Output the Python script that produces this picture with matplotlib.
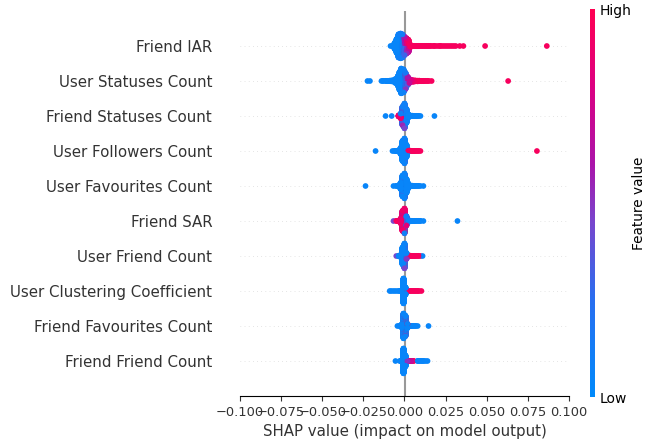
import numpy as np
import matplotlib
matplotlib.use("Agg")
from matplotlib import pyplot as plt
from matplotlib.colors import LinearSegmentedColormap
from matplotlib.cm import ScalarMappable

# (shap value, number of samples, normalised feature value)
friend_iar = [
    (-0.0085, 1, 0.05), (-0.0072, 3, 0.05),
    (-0.0060, 40, 0.05), (-0.0048, 90, 0.05), (-0.0036, 150, 0.08), (-0.0024, 160, 0.1),
    (-0.0012, 120, 0.15), (-0.0012, 30, 0.5),
    (0.0000, 60, 0.3), (0.0000, 60, 0.6),
    (0.0012, 50, 0.55), (0.0012, 50, 0.85),
    (0.0024, 40, 0.7), (0.0024, 40, 0.95),
    (0.0036, 15, 0.95), (0.0048, 4, 0.95), (0.0060, 3, 0.95), (0.0072, 3, 0.95),
    (0.0084, 3, 0.95), (0.0096, 2, 0.95), (0.0108, 2, 0.95), (0.0120, 2, 0.95),
    (0.0132, 2, 0.95), (0.0144, 2, 0.95), (0.0156, 2, 0.95), (0.0168, 1, 0.95),
    (0.0180, 2, 0.95), (0.0192, 1, 0.95), (0.0204, 1, 0.95), (0.0216, 2, 0.95),
    (0.0228, 1, 0.95), (0.0240, 1, 0.95), (0.0252, 1, 0.95), (0.0264, 1, 0.95),
    (0.0276, 1, 0.95), (0.0288, 1, 0.95), (0.0300, 1, 0.95), (0.0312, 1, 0.95),
    (0.0336, 1, 0.95), (0.0358, 1, 0.95), (0.0490, 1, 0.95), (0.0865, 1, 0.95),
]
user_statuses = [
    (-0.0225, 1, 0.05), (-0.0210, 1, 0.05),
    (-0.0140, 1, 0.05), (-0.0130, 2, 0.05), (-0.0115, 2, 0.05), (-0.0105, 3, 0.05),
    (-0.0090, 4, 0.05), (-0.0080, 6, 0.05), (-0.0067, 10, 0.05), (-0.0055, 25, 0.05),
    (-0.0040, 60, 0.05), (-0.0030, 110, 0.05), (-0.0020, 150, 0.07), (-0.0006, 140, 0.1),
    (0.0006, 70, 0.15), (0.0006, 30, 0.5), (0.0020, 25, 0.35), (0.0020, 25, 0.6),
    (0.0030, 25, 0.7), (0.0040, 14, 0.8), (0.0055, 9, 0.9), (0.0067, 6, 0.95),
    (0.0080, 5, 0.95), (0.0090, 4, 0.95), (0.0103, 3, 0.95), (0.0115, 3, 0.95),
    (0.0128, 2, 0.95), (0.0140, 2, 0.95), (0.0150, 1, 0.95), (0.0165, 1, 0.95),
    (0.0630, 1, 0.95),
]
friend_statuses = [
    (-0.0115, 1, 0.05), (-0.0078, 1, 0.05), (-0.0036, 8, 0.9),
    (-0.0024, 15, 0.9), (-0.0024, 15, 0.1), (-0.0012, 80, 0.1), (-0.0012, 40, 0.55),
    (0.0000, 110, 0.08), (0.0000, 50, 0.45), (0.0012, 90, 0.08), (0.0024, 20, 0.05),
    (0.0036, 6, 0.05), (0.0048, 4, 0.05), (0.0060, 3, 0.05), (0.0072, 3, 0.05),
    (0.0085, 2, 0.05), (0.0097, 1, 0.05), (0.0182, 1, 0.05),
]
user_followers = [
    (-0.0176, 1, 0.05), (-0.0073, 1, 0.05), (-0.0060, 2, 0.05), (-0.0048, 3, 0.05),
    (-0.0036, 6, 0.05), (-0.0024, 40, 0.05), (-0.0012, 130, 0.05),
    (0.0000, 140, 0.07), (0.0000, 20, 0.4), (0.0012, 80, 0.05),
    (0.0024, 4, 0.05), (0.0024, 4, 0.95), (0.0036, 4, 0.95), (0.0048, 3, 0.95),
    (0.0060, 3, 0.95), (0.0073, 2, 0.95), (0.0085, 2, 0.95), (0.0097, 1, 0.95),
    (0.0805, 1, 0.95),
]
user_favourites = [
    (-0.0237, 1, 0.05), (-0.0067, 1, 0.05), (-0.0050, 2, 0.05), (-0.0036, 6, 0.05),
    (-0.0024, 40, 0.05), (-0.0012, 120, 0.05), (-0.0012, 15, 0.5),
    (0.0000, 130, 0.07), (0.0000, 15, 0.95), (0.0000, 15, 0.5),
    (0.0012, 90, 0.05), (0.0024, 30, 0.05), (0.0036, 6, 0.05), (0.0048, 4, 0.05),
    (0.0060, 3, 0.05), (0.0073, 2, 0.05), (0.0085, 2, 0.05), (0.0097, 1, 0.05),
    (0.0115, 1, 0.05),
]
friend_sar = [
    (-0.0067, 1, 0.45), (-0.0050, 2, 0.95), (-0.0036, 5, 0.95), (-0.0024, 30, 0.9),
    (-0.0012, 100, 0.92), (-0.0012, 30, 0.6), (0.0000, 120, 0.9), (0.0000, 40, 0.1),
    (0.0012, 40, 0.1), (0.0012, 20, 0.85), (0.0024, 10, 0.05), (0.0036, 5, 0.05),
    (0.0048, 3, 0.05), (0.0060, 3, 0.05), (0.0073, 2, 0.05), (0.0085, 2, 0.05),
    (0.0097, 2, 0.05), (0.0115, 1, 0.05), (0.0322, 1, 0.05),
]
user_friend = [
    (-0.0050, 1, 0.45), (-0.0036, 3, 0.05), (-0.0024, 15, 0.05), (-0.0012, 110, 0.05),
    (0.0000, 110, 0.07), (0.0000, 40, 0.45), (0.0000, 10, 0.95),
    (0.0012, 30, 0.05), (0.0012, 10, 0.5), (0.0024, 6, 0.95), (0.0036, 4, 0.95),
    (0.0048, 3, 0.95), (0.0060, 3, 0.95), (0.0073, 2, 0.95), (0.0085, 2, 0.95),
    (0.0097, 1, 0.95), (0.0110, 1, 0.05),
]
user_clustering = [
    (-0.0090, 1, 0.05), (-0.0080, 1, 0.05), (-0.0067, 1, 0.05), (-0.0055, 1, 0.05),
    (-0.0042, 1, 0.05), (-0.0030, 2, 0.05), (-0.0018, 3, 0.05), (-0.0006, 200, 0.05),
    (0.0006, 60, 0.05), (0.0018, 3, 0.95), (0.0030, 2, 0.95), (0.0042, 2, 0.95),
    (0.0055, 2, 0.95), (0.0067, 2, 0.95), (0.0080, 2, 0.95), (0.0090, 1, 0.95),
    (0.0103, 1, 0.95),
]
friend_favourites = [
    (-0.0043, 1, 0.05), (-0.0030, 2, 0.05), (-0.0018, 20, 0.05),
    (-0.0006, 150, 0.05), (-0.0006, 20, 0.5), (0.0006, 120, 0.07), (0.0006, 20, 0.85),
    (0.0018, 25, 0.05), (0.0018, 5, 0.95), (0.0030, 3, 0.95), (0.0030, 2, 0.05),
    (0.0042, 3, 0.05), (0.0055, 2, 0.05), (0.0067, 2, 0.05), (0.0080, 1, 0.05),
    (0.0146, 1, 0.05),
]
friend_friend = [
    (-0.0055, 1, 0.05), (-0.0030, 1, 0.05), (-0.0018, 10, 0.05), (-0.0006, 180, 0.05),
    (0.0006, 80, 0.05), (0.0018, 5, 0.5), (0.0030, 3, 0.95), (0.0042, 3, 0.7),
    (0.0055, 2, 0.95), (0.0080, 2, 0.05), (0.0090, 2, 0.05), (0.0103, 2, 0.05),
    (0.0115, 2, 0.05), (0.0128, 1, 0.05), (0.0140, 1, 0.05),
]

# top to bottom
features = ["Friend IAR", "User Statuses Count", "Friend Statuses Count",
            "User Followers Count", "User Favourites Count", "Friend SAR",
            "User Friend Count", "User Clustering Coefficient",
            "Friend Favourites Count", "Friend Friend Count"]
rows = [friend_iar, user_statuses, friend_statuses, user_followers, user_favourites,
        friend_sar, user_friend, user_clustering, friend_favourites, friend_friend]

red_blue = LinearSegmentedColormap.from_list("red_blue", [
    (0.0, (0 / 255, 138 / 255, 251 / 255)),
    (0.25, (40 / 255, 110 / 255, 240 / 255)),
    (0.45, (120 / 255, 70 / 255, 205 / 255)),
    (0.6, (170 / 255, 20 / 255, 170 / 255)),
    (0.8, (220 / 255, 0, 130 / 255)),
    (1.0, (255 / 255, 0, 82 / 255)),
])


def expand(row):
    vals, fvs, keys = [], [], []
    for v, n, fv in row:
        for j in range(n):
            vals.append(v)
            fvs.append(fv)
            keys.append((j + 0.5) / n)
    return np.array(vals), np.array(fvs), np.array(keys)


def swarm(vals, keys, nbins=100, row_height=0.4):
    quant = np.round(nbins * (vals - vals.min()) / (vals.max() - vals.min() + 1e-8))
    inds = np.lexsort((keys, quant))
    ys = np.zeros(len(vals))
    layer = 0
    last_bin = -1
    for ind in inds:
        if quant[ind] != last_bin:
            layer = 0
        ys[ind] = np.ceil(layer / 2) * ((layer % 2) * 2 - 1)
        layer += 1
        last_bin = quant[ind]
    ys *= 0.9 * (row_height / np.max(ys + 1))
    return ys


fig = plt.figure(figsize=(6.49, 4.40), dpi=100)
ax = fig.add_axes([240 / 649, 44 / 440, 329 / 649, 385 / 440])

n = len(features)
axis_color = "#333333"
ax.axvline(0, color="#999999", zorder=-1)
for i, (name, row) in enumerate(zip(features, rows)):
    pos = n - 1 - i
    ax.axhline(pos, color="#cccccc", lw=0.5, dashes=(1, 5), zorder=-1)
    vals, fvs, keys = expand(row)
    ys = swarm(vals, keys)
    order = np.argsort(keys, kind="stable")
    ax.scatter(vals[order], pos + ys[order], c=fvs[order], cmap=red_blue, vmin=0, vmax=1,
               s=17, linewidth=0, alpha=1, zorder=3, rasterized=True)

ax.set_yticks(range(n))
ax.set_yticklabels(features[::-1], fontsize=10.8)
ax.yaxis.set_ticks_position("none")
ax.tick_params("y", length=16.5, width=0.5, which="major")
ax.tick_params(color=axis_color, labelcolor=axis_color)
ax.tick_params("x", labelsize=9.4)
ax.spines["right"].set_visible(False)
ax.spines["top"].set_visible(False)
ax.spines["left"].set_visible(False)
ax.set_ylim(-1, n)
ax.set_xlim(-0.1, 0.1)
ax.set_xticks(np.arange(-0.1, 0.1001, 0.025))
ax.set_xlabel("SHAP value (impact on model output)", fontsize=10.8, color=axis_color)

cax = fig.add_axes([590 / 649, 43 / 440, 5 / 649, 388 / 440])
m = ScalarMappable(cmap=red_blue)
m.set_array([0, 1])
cb = fig.colorbar(m, cax=cax, ticks=[0, 1])
cb.set_ticklabels(["Low", "High"])
cb.set_label("Feature value", size=9.8, labelpad=0)
cb.ax.tick_params(labelsize=10, length=0)
cb.outline.set_visible(False)

fig.savefig("out.png", dpi=100)
